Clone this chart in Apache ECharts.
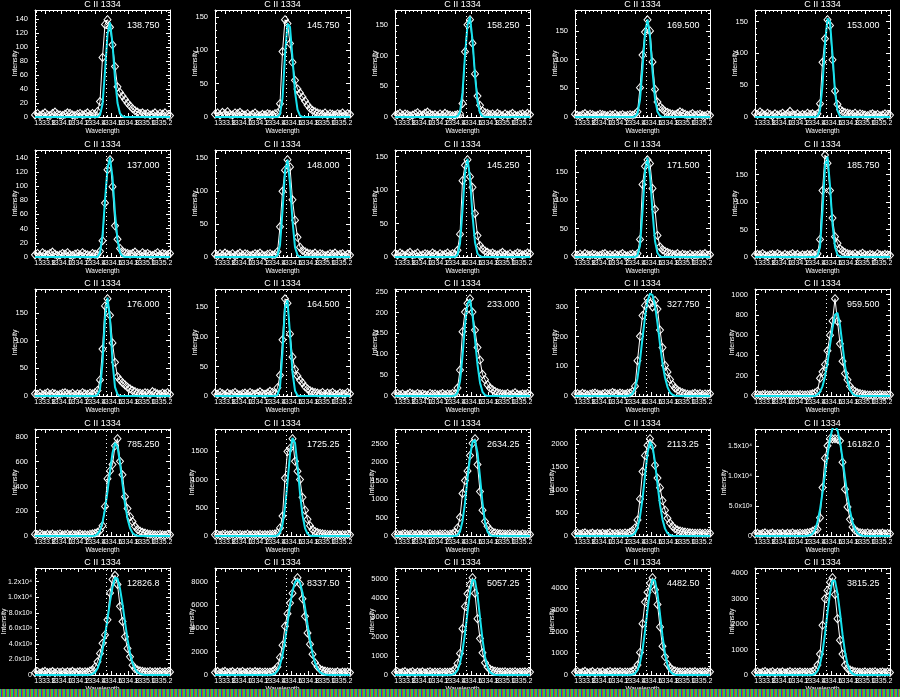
<!DOCTYPE html>
<html><head><meta charset="utf-8">
<script src="https://cdn.jsdelivr.net/npm/echarts@6/dist/echarts.min.js"></script>
<style>html,body{margin:0;padding:0;background:#000}#c{width:900px;height:697px}</style>
</head><body><div id="c"></div>
<script>
// ---------- data ----------
const wavelength = [
1333.68,1333.71,1333.74,1333.77,1333.80,1333.83,1333.86,1333.89,1333.92,1333.95,
1333.98,1334.01,1334.04,1334.07,1334.10,1334.13,1334.16,1334.19,1334.22,1334.25,
1334.28,1334.31,1334.34,1334.37,1334.40,1334.43,1334.46,1334.49,1334.52,1334.55,
1334.58,1334.61,1334.64,1334.67,1334.70,1334.73,1334.76,1334.79,1334.82,1334.85,
1334.88,1334.91,1334.94,1334.97,1335.00,1335.03,1335.06,1335.09,1335.12,1335.15,
1335.18,1335.21,1335.24,1335.27,1335.30];
const xTickValues = [1333.8,1334.0,1334.2,1334.4,1334.6,1334.8,1335.0,1335.2];
const xMin = 1333.68, xMax = 1335.30;
const restWavelength = 1334.54;
const panelTitle = 'C II 1334';
const xName = 'Wavelength', yName = 'Intensity';
const peakLabels = ['138.750','145.750','158.250','169.500','153.000',
  '137.000','148.000','145.250','171.500','185.750',
  '176.000','164.500','233.000','327.750','959.500',
  '785.250','1725.25','2634.25','2113.25','16182.0',
  '12826.8','8337.50','5057.25','4482.50','3815.25'];
const yMaxValues = [152.6,160.3,174.1,186.5,168.3, 150.7,162.8,159.8,188.7,195,
  193.6,181.0,256.3,360.5,1055, 863.8,1898,2898,2325,17800,
  13760,9171,5563,4931,4197];
const yTickStep = [20,50,50,50,50, 20,50,50,50,50, 50,50,50,100,200, 200,500,500,500,5000, 2000,2000,1000,1000,1000];
const yMinorCount = [4,5,5,5,5, 4,5,5,5,5, 5,5,5,5,4, 4,5,5,5,5, 4,4,5,5,5];
const yExpLabels = [0,0,0,0,0, 0,0,0,0,0, 0,0,0,0,0, 0,0,0,0,1, 1,0,0,0,0];

const obs01=[3,5,2,4,6,3,2,5,7,4,3,2,4,6,5,3,2,4,5,3,4,6,3,5,4,8,22,85,132,138.75,128,103,72,43,35,30,25,20,16,12,9,7,5,6,4,5,3,4,6,3,5,4,6,3,2];
const obs02=[4,6,3,7,5,8,4,3,6,5,7,4,3,5,2,4,6,3,2,4,3,5,4,3,5,6,20,98,145.75,140,110,82,55,42,36,30,24,18,13,10,8,6,5,4,6,3,5,4,3,5,4,6,3,5,4];
const obs03=[2,4,6,3,5,4,2,3,5,7,4,3,6,8,5,3,4,2,5,3,6,4,3,2,3,4,5,22,106,150,158.25,120,70,34,19,10,7,6,4,5,3,6,4,2,5,3,4,6,3,2,4,5,3,6,4];
const obs04=[5,3,2,4,6,3,5,4,2,3,5,4,3,2,4,3,5,2,3,4,2,3,4,3,5,9,51,108,148,169.5,150,96,48,26,18,14,10,8,6,5,4,6,9,7,5,3,4,6,3,4,5,3,2,4,3];
const obs05=[6,4,8,5,3,6,4,2,5,3,4,6,3,5,9,4,3,5,2,4,3,6,4,5,3,5,21,86,123,153,144,90,41,20,12,9,7,6,5,4,6,3,5,4,3,2,4,5,3,4,2,3,5,4,3];
const obs06=[3,5,2,6,4,3,5,7,4,2,3,5,4,6,3,2,4,5,3,6,4,3,2,5,4,3,8,23,76,123,137,99,44,25,12,8,6,5,4,5,7,4,3,6,4,5,3,2,4,6,3,5,4,3,5];
const obs07=[4,2,5,3,6,4,3,5,2,4,6,3,5,4,2,3,5,4,6,3,2,4,5,3,4,8,46,100,132,148,137,87,56,30,15,10,8,6,5,4,6,3,5,4,2,3,5,4,6,3,4,5,2,4,3];
const obs08=[5,3,6,4,2,5,7,3,4,6,2,3,5,4,3,6,4,2,5,3,4,6,3,5,4,10,34,114,137,145.25,120,104,65,32,17,12,9,7,5,6,4,3,5,7,4,3,5,2,4,6,5,3,4,6,5];
const obs09=[4,3,5,2,6,4,3,5,4,2,3,5,6,3,4,2,5,3,4,6,3,2,4,5,3,6,31,128,160,171.5,165,121,84,38,18,13,10,8,6,5,4,6,3,5,4,3,5,2,4,3,5,4,6,3,4];
const obs10=[3,5,4,6,3,2,4,5,3,6,4,2,5,3,4,6,3,5,2,4,3,5,4,6,3,6,32,121,185.75,171,121,71,37,25,15,11,8,6,5,4,6,3,5,7,4,3,5,4,2,6,4,3,5,4,3];
const obs11=[4,3,5,2,4,6,3,5,4,2,3,5,6,4,3,5,2,4,3,6,4,3,5,4,6,10,29,85,163,176,146,96,61,35,29,24,20,16,13,10,8,6,5,4,6,5,3,8,6,4,3,5,4,6,3];
const obs12=[5,3,6,4,2,5,3,4,6,3,2,4,5,3,6,4,3,5,7,4,3,5,8,6,4,14,35,95,164.5,157,105,66,45,34,27,22,16,12,9,7,6,5,4,6,3,5,4,6,3,2,5,4,3,6,4];
const obs13=[4,6,3,5,2,4,7,5,3,6,4,5,3,2,6,4,5,3,4,6,3,5,4,6,5,19,62,154,201,222,233,201,158,116,86,52,39,27,19,15,11,8,6,5,4,6,3,5,8,4,3,5,4,6,3];
const obs14=[6,8,5,9,7,4,6,8,10,7,5,6,9,7,8,12,9,7,10,8,6,9,10,15,33,119,201,271,305,327.75,312,300,322,293,222,163,103,81,56,38,27,20,15,11,8,6,5,7,9,6,8,5,7,6,8];
const obs15=[10,14,8,12,16,11,9,13,10,15,12,8,11,14,10,13,9,12,15,11,10,13,15,22,30,48,175,238,311,445,600,740,959.5,737,515,343,222,159,95,64,45,32,24,18,14,11,9,8,12,9,14,10,8,11,13];
const obs16=[15,10,18,12,8,14,11,16,9,13,17,10,12,15,9,14,11,13,16,10,12,9,14,18,22,30,45,83,239,463,525,577,728,785.25,603,494,317,221,156,117,78,52,40,30,24,18,14,12,10,9,13,10,8,12,11];
const obs17=[20,28,15,25,32,18,22,30,16,24,27,19,21,33,17,26,23,20,29,18,25,22,30,30,38,55,143,354,1028,1497,1554,1725.25,1325,1150,1000,686,457,297,183,114,80,60,45,38,32,28,25,30,22,27,20,26,24,28,21];
const obs18=[35,50,28,45,60,38,42,55,30,48,40,52,36,44,58,33,47,39,51,43,56,37,49,60,100,218,506,1151,1500,1761,2180,2511,2634.25,1936,1203,698,392,262,170,110,85,70,60,55,50,45,58,40,52,48,36,55,42,50,44];
const obs19=[45,60,38,55,70,42,50,65,40,58,48,62,44,52,68,40,56,47,61,50,66,55,80,120,175,350,805,1400,1750,1974,2113.25,1960,1540,1260,1050,770,560,385,280,210,160,130,110,95,85,78,70,65,60,58,64,52,60,55,62];
const obs20=[320,450,280,400,520,350,380,480,300,420,360,460,310,440,390,500,340,410,470,380,450,520,600,800,1000,1120,3050,8050,12950,15000,16182,16150,16182,16100,15830,12280,7780,4830,2780,1500,950,700,560,480,420,500,380,460,350,440,400,480,360,430,390];
const obs21=[300,420,250,380,480,320,350,450,280,400,330,430,290,410,360,470,310,390,440,350,420,380,500,650,1040,1690,2770,4070,5150,7100,10560,12290,12826.8,11640,8830,6880,4930,3420,2340,1255,820,650,540,480,430,400,460,350,420,380,440,330,410,370,390];
const obs22=[220,300,180,260,320,200,240,290,170,270,230,310,190,250,280,210,300,240,270,220,260,230,250,300,450,710,1505,2556,4175,5254,6163,7015,7952,8337.5,7810,6532,5027,3607,2641,1789,1050,710,500,400,340,290,260,240,220,270,200,250,230,260,210];
const obs23=[120,160,100,140,180,110,130,170,95,150,125,165,105,145,175,115,155,135,160,120,150,140,150,200,300,603,1119,2411,3565,4219,4700,5057.25,4253,2927,1894,1154,637,420,300,240,200,180,160,150,170,130,160,140,175,125,155,145,165,135,150];
const obs24=[110,150,90,130,170,100,120,160,85,140,115,155,95,135,165,105,145,125,150,110,140,130,140,180,250,458,1038,2367,3359,3817,4230,4482.5,3924,3252,2214,1328,840,500,330,240,190,160,140,130,155,115,145,125,160,110,140,135,150,120,145];
const obs25=[90,120,75,110,140,85,100,130,70,115,95,125,80,105,135,90,120,100,125,95,115,105,110,140,200,390,819,1950,2990,3315,3640,3815.25,3159,2210,1365,819,390,260,200,160,130,115,105,100,125,90,115,105,130,85,110,120,95,115,100];

const fit01=[0,0,0,0,0,0,0,0,0,0,0,0,0,0,0,0,0,0,0,0,0,0,0,0,0,0,3,18,65,118,135,105,55,20,5,1,0,0,0,0,0,0,0,0,0,0,0,0,0,0,0,0,0,0,0];
const fit02=[0,0,0,0,0,0,0,0,0,0,0,0,0,0,0,0,0,0,0,0,0,0,0,0,0,0,4,28,92,140,135,88,38,11,2,0,0,0,0,0,0,0,0,0,0,0,0,0,0,0,0,0,0,0,0];
const fit03=[0,0,0,0,0,0,0,0,0,0,0,0,0,0,0,0,0,0,0,0,0,0,0,0,0,1,8,40,100,150,163,125,68,25,7,1,0,0,0,0,0,0,0,0,0,0,0,0,0,0,0,0,0,0,0];
const fit04=[0,0,0,0,0,0,0,0,0,0,0,0,0,0,0,0,0,0,0,0,0,0,0,0,1,6,30,85,145,170,140,80,32,9,2,0,0,0,0,0,0,0,0,0,0,0,0,0,0,0,0,0,0,0,0];
const fit05=[0,0,0,0,0,0,0,0,0,0,0,0,0,0,0,0,0,0,0,0,0,0,0,0,0,1,10,50,115,155,150,98,40,10,1,0,0,0,0,0,0,0,0,0,0,0,0,0,0,0,0,0,0,0,0];
const fit06=[0,0,0,0,0,0,0,0,0,0,0,0,0,0,0,0,0,0,0,0,0,0,0,0,0,0,6,30,80,125,140,112,62,24,6,1,0,0,0,0,0,0,0,0,0,0,0,0,0,0,0,0,0,0,0];
const fit07=[0,0,0,0,0,0,0,0,0,0,0,0,0,0,0,0,0,0,0,0,0,0,0,0,0,2,18,70,130,148,112,55,15,3,0,0,0,0,0,0,0,0,0,0,0,0,0,0,0,0,0,0,0,0,0];
const fit08=[0,0,0,0,0,0,0,0,0,0,0,0,0,0,0,0,0,0,0,0,0,0,0,0,0,3,20,70,125,147,118,62,22,5,1,0,0,0,0,0,0,0,0,0,0,0,0,0,0,0,0,0,0,0,0];
const fit09=[0,0,0,0,0,0,0,0,0,0,0,0,0,0,0,0,0,0,0,0,0,0,0,0,0,3,20,80,150,175,145,80,28,7,1,0,0,0,0,0,0,0,0,0,0,0,0,0,0,0,0,0,0,0,0];
const fit10=[0,0,0,0,0,0,0,0,0,0,0,0,0,0,0,0,0,0,0,0,0,0,0,0,0,2,18,85,165,183,130,60,18,4,1,0,0,0,0,0,0,0,0,0,0,0,0,0,0,0,0,0,0,0,0];
const fit11=[0,0,0,0,0,0,0,0,0,0,0,0,0,0,0,0,0,0,0,0,0,0,0,0,0,2,12,60,140,178,140,62,16,3,0,0,0,0,0,0,0,0,0,0,0,0,0,0,0,0,0,0,0,0,0];
const fit12=[0,0,0,0,0,0,0,0,0,0,0,0,0,0,0,0,0,0,0,0,0,0,0,0,0,2,15,75,150,162,105,40,9,1,0,0,0,0,0,0,0,0,0,0,0,0,0,0,0,0,0,0,0,0,0];
const fit13=[0,0,0,0,0,0,0,0,0,0,0,0,0,0,0,0,0,0,0,0,0,0,0,0,1,8,35,95,170,222,230,195,135,75,32,10,2,0,0,0,0,0,0,0,0,0,0,0,0,0,0,0,0,0,0];
const fit14=[0,0,0,0,0,0,0,0,0,0,0,0,0,0,0,0,0,0,0,0,0,0,2,8,25,60,120,195,265,320,345,340,305,245,175,110,62,30,12,4,1,0,0,0,0,0,0,0,0,0,0,0,0,0,0];
const fit15=[0,0,0,0,0,0,0,0,0,0,0,0,0,0,0,0,0,0,0,0,0,0,0,0,0,15,40,95,190,330,500,670,800,820,700,500,300,150,62,22,6,1,0,0,0,0,0,0,0,0,0,0,0,0,0];
const fit16=[0,0,0,0,0,0,0,0,0,0,0,0,0,0,0,0,0,0,0,0,0,0,0,0,3,15,45,110,215,360,520,670,750,720,590,420,260,140,65,25,8,2,0,0,0,0,0,0,0,0,0,0,0,0,0];
const fit17=[0,0,0,0,0,0,0,0,0,0,0,0,0,0,0,0,0,0,0,0,0,0,0,0,0,10,60,200,500,950,1450,1740,1650,1250,760,370,140,40,9,1,0,0,0,0,0,0,0,0,0,0,0,0,0,0,0];
const fit18=[0,0,0,0,0,0,0,0,0,0,0,0,0,0,0,0,0,0,0,0,0,0,0,0,0,20,120,400,900,1550,2150,2550,2600,2250,1600,900,380,120,25,3,0,0,0,0,0,0,0,0,0,0,0,0,0,0,0];
const fit19=[0,0,0,0,0,0,0,0,0,0,0,0,0,0,0,0,0,0,0,0,0,0,2,15,60,180,420,800,1300,1800,2050,1950,1600,1120,680,360,160,60,20,5,1,0,0,0,0,0,0,0,0,0,0,0,0,0,0];
const fit20=[0,0,0,0,0,0,0,0,0,0,0,0,0,0,0,0,0,0,0,0,0,30,110,380,1000,2300,4400,7200,10300,13400,16200,17900,18400,17600,15700,12900,9700,6700,4200,2300,1100,450,160,50,0,0,0,0,0,0,0,0,0,0,0];
const fit21=[0,0,0,0,0,0,0,0,0,0,0,0,0,0,0,0,0,0,0,0,0,0,30,110,330,830,1750,3200,5050,7200,9400,11300,12500,12400,11100,9100,6800,4600,2800,1550,780,350,140,50,0,0,0,0,0,0,0,0,0,0,0];
const fit22=[0,0,0,0,0,0,0,0,0,0,0,0,0,0,0,0,0,0,0,0,0,0,0,40,130,360,850,1700,2950,4450,5950,7200,7950,8200,7900,7050,5800,4350,2980,1850,1050,540,250,100,35,0,0,0,0,0,0,0,0,0,0];
const fit23=[0,0,0,0,0,0,0,0,0,0,0,0,0,0,0,0,0,0,0,0,0,0,0,20,80,250,620,1250,2150,3250,4300,4950,4900,4150,3000,1850,950,420,150,45,10,0,0,0,0,0,0,0,0,0,0,0,0,0,0];
const fit24=[0,0,0,0,0,0,0,0,0,0,0,0,0,0,0,0,0,0,0,0,0,0,0,20,70,220,560,1150,2000,3000,3900,4400,4350,3750,2800,1800,980,460,180,60,15,0,0,0,0,0,0,0,0,0,0,0,0,0,0];
const fit25=[0,0,0,0,0,0,0,0,0,0,0,0,0,0,0,0,0,0,0,0,0,0,0,0,50,160,420,900,1600,2450,3200,3700,3700,3200,2450,1600,900,420,160,50,12,0,0,0,0,0,0,0,0,0,0,0,0,0,0];

const observed=[obs01,obs02,obs03,obs04,obs05,obs06,obs07,obs08,obs09,obs10,obs11,obs12,obs13,obs14,obs15,obs16,obs17,obs18,obs19,obs20,obs21,obs22,obs23,obs24,obs25];
const fitted=[fit01,fit02,fit03,fit04,fit05,fit06,fit07,fit08,fit09,fit10,fit11,fit12,fit13,fit14,fit15,fit16,fit17,fit18,fit19,fit20,fit21,fit22,fit23,fit24,fit25];

// ---------- layout / style ----------
const FONT = "'Liberation Sans', Arial, Helvetica, sans-serif";
const rowTop = [0,140,279,419,558];
const colLeft = [0,180,360,540,720];
const PLOT_L = 35, PLOT_T = 10, PLOT_W = 135, PLOT_H = 107;
const CYAN = '#16e2ee';
const SUP = {3:'\u00b3', 4:'\u2074'};
// labels are split into two interleaved sets so that ECharts does not drop overlapping neighbours
const xLabelsA = xTickValues.filter((v,i)=>i%2===0);
const xLabelsB = xTickValues.filter((v,i)=>i%2===1);

function xMinorValues(){
  const out=[]; for(let k=Math.ceil(xMin/0.05-1e-9); k*0.05<=xMax+1e-9; k++){ out.push(+(k*0.05).toFixed(2)); } return out;
}
function yTicks(step, max){ const out=[]; for(let k=0; k*step<=max+1e-9; k++) out.push(k*step); return out; }

const option = {backgroundColor:'#000', animation:false, grid:[], xAxis:[], yAxis:[], series:[], graphic:[]};
const xMinor = xMinorValues();
const NX = 5, NY = 4;

for (let p=0; p<25; p++){
  const r=Math.floor(p/5), c=p%5;
  const gx = colLeft[c]+PLOT_L, gy = rowTop[r]+PLOT_T;
  const ymax = yMaxValues[p];
  const step = yTickStep[p];
  const yMaj = yTicks(step, ymax);
  const yMin = yTicks(step/yMinorCount[p], ymax);
  const isExp = !!yExpLabels[p];
  const fmtY = isExp ? (v=>{ if(v===0) return '0'; const e=Math.floor(Math.log10(v)+1e-9); return (v/Math.pow(10,e)).toFixed(1)+'x10'+SUP[e]; }) : (v=>String(Math.round(v)));
  const maxLabelLen = isExp ? 7 : String(Math.round(yMaj[yMaj.length-1])).length;
  const yNameGap = maxLabelLen >= 7 ? 27 : (maxLabelLen >= 4 ? 19 : 16);
  option.grid.push({left:gx, top:gy, width:PLOT_W, height:PLOT_H, show:false, containLabel:false, outerBoundsMode:'none'});
  const lineW = {color:'#fff', width:1};
  const baseX = {gridIndex:p, type:'value', min:xMin, max:xMax, splitLine:{show:false}, silent:true};
  const baseY = {gridIndex:p, type:'value', min:0, max:ymax, splitLine:{show:false}, silent:true};
  const xLab = (vals)=>({show:true, customValues:vals, hideOverlap:false, showMinLabel:true, showMaxLabel:true,
      formatter:v=>v.toFixed(1), color:'#fff', fontSize:7, fontFamily:FONT, margin:3});
  option.xAxis.push(Object.assign({}, baseX, {position:'bottom',
    axisLine:{show:true, onZero:false, lineStyle:lineW},
    axisTick:{show:true, inside:true, length:4, customValues:xTickValues, lineStyle:lineW},
    axisLabel:xLab(xLabelsA),
    name:xName, nameLocation:'middle', nameGap:11, nameMoveOverlap:false,
    nameTextStyle:{color:'#fff', fontSize:6.5, fontFamily:FONT}}));
  option.xAxis.push(Object.assign({}, baseX, {position:'bottom',
    axisLine:{show:false, onZero:false}, axisTick:{show:false}, axisLabel:xLab(xLabelsB)}));
  option.xAxis.push(Object.assign({}, baseX, {position:'bottom',
    axisLine:{show:false, onZero:false}, axisLabel:{show:false},
    axisTick:{show:true, inside:true, length:2, customValues:xMinor, lineStyle:lineW}}));
  option.xAxis.push(Object.assign({}, baseX, {position:'top',
    axisLine:{show:true, onZero:false, lineStyle:lineW}, axisLabel:{show:false},
    axisTick:{show:true, inside:true, length:4, customValues:xTickValues, lineStyle:lineW}}));
  option.xAxis.push(Object.assign({}, baseX, {position:'top',
    axisLine:{show:false, onZero:false}, axisLabel:{show:false},
    axisTick:{show:true, inside:true, length:2, customValues:xMinor, lineStyle:lineW}}));
  option.yAxis.push(Object.assign({}, baseY, {position:'left',
    axisLine:{show:true, onZero:false, lineStyle:lineW},
    axisTick:{show:true, inside:true, length:4, customValues:yMaj, lineStyle:lineW},
    axisLabel:{show:true, customValues:yMaj, hideOverlap:false, formatter:fmtY, color:'#fff',
      fontSize: isExp ? 7 : 7.5, fontFamily:FONT, margin: isExp ? 3 : 7},
    name:yName, nameLocation:'middle', nameGap:yNameGap, nameMoveOverlap:false,
    nameTextStyle:{color:'#fff', fontSize:7, fontFamily:FONT}}));
  option.yAxis.push(Object.assign({}, baseY, {position:'left',
    axisLine:{show:false, onZero:false}, axisLabel:{show:false},
    axisTick:{show:true, inside:true, length:2, customValues:yMin, lineStyle:lineW}}));
  option.yAxis.push(Object.assign({}, baseY, {position:'right',
    axisLine:{show:true, onZero:false, lineStyle:lineW}, axisLabel:{show:false},
    axisTick:{show:true, inside:true, length:4, customValues:yMaj, lineStyle:lineW}}));
  option.yAxis.push(Object.assign({}, baseY, {position:'right',
    axisLine:{show:false, onZero:false}, axisLabel:{show:false},
    axisTick:{show:true, inside:true, length:2, customValues:yMin, lineStyle:lineW}}));

  const xi = p*NX, yi = p*NY;
  option.series.push({type:'line', xAxisIndex:xi, yAxisIndex:yi, silent:true, z:2,
    data: wavelength.map((w,i)=>[w, observed[p][i]]),
    symbol:'diamond', symbolSize:[7,8], showAllSymbol:true,
    itemStyle:{color:'rgba(0,0,0,0)', borderColor:'#fff', borderWidth:1},
    lineStyle:{color:'#fff', width:1}, emphasis:{disabled:true},
    markLine:{silent:true, symbol:['none','none'], label:{show:false}, animation:false,
      lineStyle:{color:'#fff', width:1, type:[1,3]}, data:[{xAxis:restWavelength}]}});
  option.series.push({type:'line', xAxisIndex:xi, yAxisIndex:yi, silent:true, z:3,
    data: wavelength.map((w,i)=>[w, fitted[p][i]]),
    symbol:'none', lineStyle:{color:CYAN, width:2}, emphasis:{disabled:true}});

  option.graphic.push({type:'text', silent:true, x: gx + PLOT_W/2, y: rowTop[r] + 4.5,
    style:{text:panelTitle, fill:'#fff', font:'9px '+FONT, textAlign:'center', textVerticalAlign:'middle', align:'center', verticalAlign:'middle'}});
  option.graphic.push({type:'text', silent:true, x: colLeft[c] + 127, y: rowTop[r] + 25.5,
    style:{text:peakLabels[p], fill:'#fff', font:'9px '+FONT, textAlign:'left', textVerticalAlign:'middle', align:'left', verticalAlign:'middle'}});
}

// striped band at the bottom of the image
const pc = document.createElement('canvas'); pc.width=4; pc.height=1;
const pctx = pc.getContext('2d');
['#3acb3a','#2b46c8','#c24a3a','#3acb3a'].forEach((col,i)=>{pctx.fillStyle=col; pctx.fillRect(i,0,1,1);});
option.graphic.push({type:'rect', silent:true, z:100, shape:{x:0,y:689,width:900,height:8}, style:{fill:{image:pc, repeat:'repeat'}}});

const chart = echarts.init(document.getElementById('c'), null, {renderer:'canvas', width:900, height:697});
chart.setOption(option);
</script></body></html>
